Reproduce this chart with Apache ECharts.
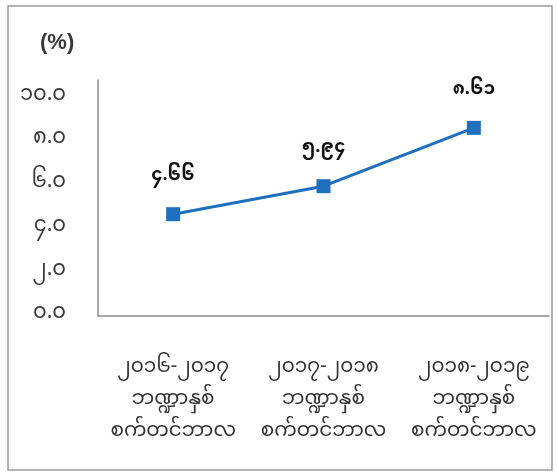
<!DOCTYPE html>
<html><head><meta charset="utf-8">
<script src="https://cdn.jsdelivr.net/npm/echarts@6/dist/echarts.min.js"></script>
<style>html,body{margin:0;padding:0;background:#fff}#c{width:557px;height:474px}</style>
</head><body><div id="c"></div>
<script>
const categories = ['၂၀၁၆-၂၀၁၇\nဘဏ္ဍာနှစ်\nစက်တင်ဘာလ', '၂၀၁၇-၂၀၁၈\nဘဏ္ဍာနှစ်\nစက်တင်ဘာလ', '၂၀၁၈-၂၀၁၉\nဘဏ္ဍာနှစ်\nစက်တင်ဘာလ'];
const values = [4.66, 5.94, 8.61];
const valueLabels = ['၄.၆၆', '၅.၉၄', '၈.၆၁'];
const yTickValues = [0, 2, 4, 6, 8, 10];
const yTickLabels = ['၀.၀', '၂.၀', '၄.၀', '၆.၀', '၈.၀', '၁၀.၀'];
const unitLabel = '(%)';

const FONT = '"Noto Sans Myanmar","Padauk","Myanmar Text","Noto Sans","DejaVu Sans",sans-serif';
const chart = echarts.init(document.getElementById('c'), null, {renderer: 'canvas'});
chart.setOption({
  animation: false,
  backgroundColor: '#ffffff',
  title: {
    text: unitLabel, left: 40, top: 32, padding: 0,
    textStyle: {fontSize: 22, fontWeight: 'bold', fontFamily: '"Liberation Sans", Arial, sans-serif', color: '#3a3a3a'}
  },
  grid: {left: 98, right: 8, top: 80, bottom: 158},
  graphic: [
    {type: 'rect', shape: {x: 8, y: 6, width: 544, height: 464},
     style: {fill: 'none', stroke: '#9a9a9a', lineWidth: 1.5}, silent: true}
  ],
  xAxis: {
    type: 'category', data: categories, boundaryGap: true,
    axisLine: {show: true, lineStyle: {color: '#8c8c8c', width: 1.5}},
    axisTick: {show: false},
    axisLabel: {color: '#333', fontSize: 20, fontFamily: FONT, lineHeight: 32, margin: 38, interval: 0}
  },
  yAxis: {
    type: 'value', min: 0, max: 10.8, interval: 2,
    splitLine: {show: false},
    axisLine: {show: true, lineStyle: {color: '#8c8c8c', width: 1.5}},
    axisTick: {show: false},
    axisLabel: {
      color: '#3a3a3a', fontSize: 21, fontFamily: FONT, margin: 32,
      formatter: function (v) { const i = yTickValues.indexOf(v); return i >= 0 ? yTickLabels[i] : ''; }
    }
  },
  series: [{
    type: 'line', data: values,
    symbol: 'rect', symbolSize: 14,
    lineStyle: {color: '#1f6fbf', width: 3},
    itemStyle: {color: '#1f6fbf'},
    label: {
      show: true, position: 'top', distance: 20,
      color: '#111', fontSize: 18, fontWeight: 'bold', fontFamily: FONT,
      formatter: function (p) { return valueLabels[p.dataIndex]; }
    }
  }]
});
</script></body></html>
